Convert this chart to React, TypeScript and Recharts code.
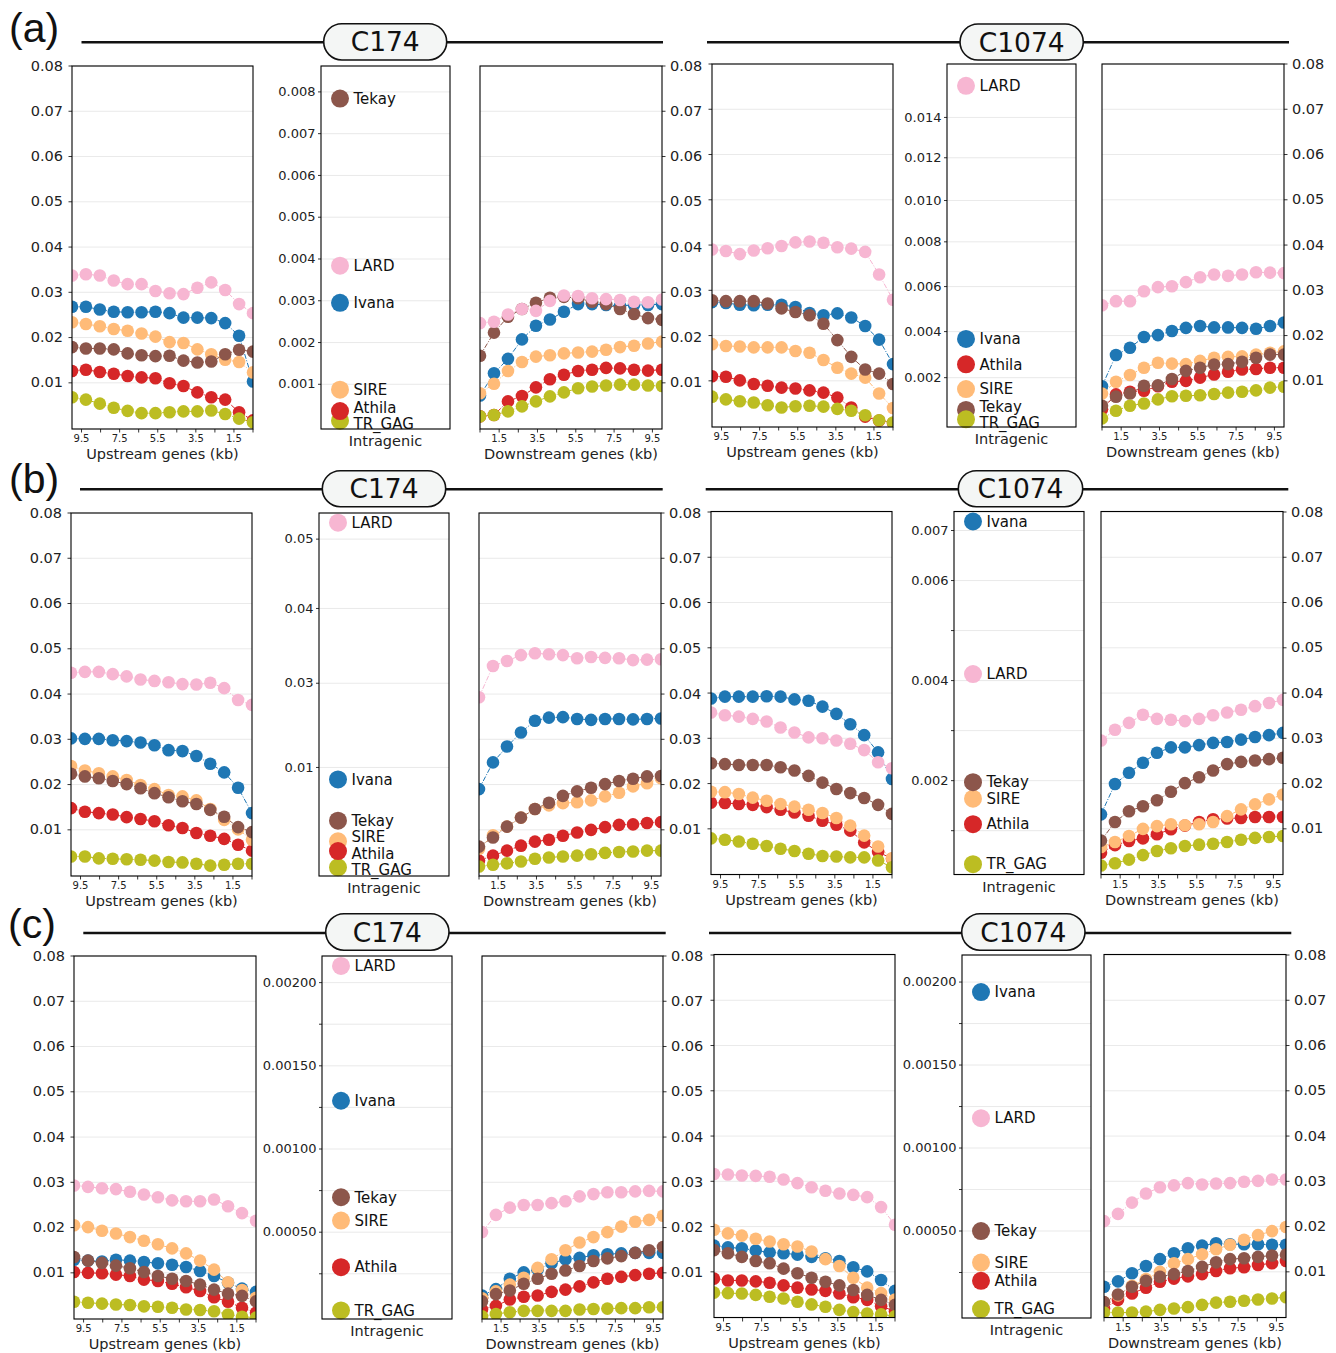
import React from 'react';
import { LineChart, Line, ScatterChart, Scatter, XAxis, YAxis, CartesianGrid } from 'recharts';

// transposable element families, in drawing order
const TES = ['Ivana', 'Athila', 'SIRE', 'Tekay', 'LARD', 'TR_GAG'];
// drawing order of the big dots in the intragenic panels
const IN_ORDER = ['Ivana', 'LARD', 'SIRE', 'Tekay', 'TR_GAG', 'Athila'];
const COLORS: Record<string, string> = {
  Ivana: '#1f77b4',
  Athila: '#d62728',
  SIRE: '#ffbb78',
  Tekay: '#8c564b',
  LARD: '#f7b6d2',
  TR_GAG: '#bcbd22',
};

// bin centres (kb). upstream panels are read left to right, i.e. far -> near
const DOWN_KB = [0.5, 1.23, 1.96, 2.69, 3.42, 4.15, 4.88, 5.62, 6.35, 7.08, 7.81, 8.54, 9.27, 10];
const UP_KB = [10, 9.27, 8.54, 7.81, 7.08, 6.35, 5.62, 4.88, 4.15, 3.42, 2.69, 1.96, 1.23, 0.5];

const X_TICKS = [0.5, 1.5, 2.5, 3.5, 4.5, 5.5, 6.5, 7.5, 8.5, 9.5];
const X_TICK_LABELS = ['', '1.5', '', '3.5', '', '5.5', '', '7.5', '', '9.5'];
const Y_TICKS = [0.01, 0.02, 0.03, 0.04, 0.05, 0.06, 0.07, 0.08];
const Y_TICK_LABELS = ['0.01', '0.02', '0.03', '0.04', '0.05', '0.06', '0.07', '0.08'];

type Series = Record<string, number[]>;
type Single = Record<string, number>;

// ---- (a) ----
const A_C174_UP: Series = {
  Ivana: [0.0268, 0.0268, 0.0262, 0.0257, 0.0256, 0.0256, 0.0257, 0.0254, 0.0244, 0.0244, 0.0243, 0.0232, 0.0204, 0.0103],
  Athila: [0.0126, 0.0129, 0.0124, 0.012, 0.0115, 0.0112, 0.011, 0.0099, 0.0093, 0.0079, 0.0068, 0.0063, 0.0035, 0.0017],
  SIRE: [0.0234, 0.023, 0.0225, 0.0219, 0.0215, 0.0209, 0.0202, 0.019, 0.0188, 0.0174, 0.0163, 0.0151, 0.0146, 0.0123],
  Tekay: [0.0179, 0.0176, 0.0176, 0.0174, 0.0165, 0.0161, 0.0159, 0.016, 0.0149, 0.0145, 0.0147, 0.0163, 0.0173, 0.0169],
  LARD: [0.0337, 0.034, 0.0337, 0.0326, 0.0318, 0.0318, 0.0303, 0.0298, 0.0296, 0.031, 0.0322, 0.0305, 0.0274, 0.0254],
  TR_GAG: [0.0068, 0.0063, 0.0054, 0.0045, 0.0038, 0.0033, 0.0033, 0.0035, 0.0037, 0.0037, 0.0039, 0.0031, 0.0021, 0.0013],
};
const A_C174_IN: Single = { Ivana: 0.00295, Athila: 0.00036, SIRE: 0.00087, Tekay: 0.00784, LARD: 0.00384, TR_GAG: 0.00013 };
const A_C174_IN_TICKS = [0.001, 0.002, 0.003, 0.004, 0.005, 0.006, 0.007, 0.008];
const A_C174_IN_LABELS = ['0.001', '0.002', '0.003', '0.004', '0.005', '0.006', '0.007', '0.008'];
const A_C174_DOWN: Series = {
  Ivana: [0.0072, 0.0121, 0.0153, 0.0196, 0.0226, 0.024, 0.0257, 0.0274, 0.0274, 0.0272, 0.027, 0.0272, 0.0272, 0.0274],
  Athila: [0.0026, 0.0029, 0.0059, 0.0071, 0.009, 0.0108, 0.0118, 0.0126, 0.0129, 0.0133, 0.0132, 0.0129, 0.0127, 0.0129],
  SIRE: [0.0077, 0.0098, 0.0126, 0.0146, 0.0158, 0.0161, 0.0165, 0.0167, 0.0169, 0.0173, 0.0179, 0.0182, 0.0187, 0.0191],
  Tekay: [0.016, 0.0211, 0.0246, 0.0263, 0.0277, 0.0288, 0.029, 0.0287, 0.0279, 0.0274, 0.0263, 0.0252, 0.0243, 0.0239],
  LARD: [0.0232, 0.0235, 0.0251, 0.0263, 0.0259, 0.0281, 0.0293, 0.0292, 0.0287, 0.0285, 0.0283, 0.0279, 0.0278, 0.0284],
  TR_GAG: [0.0026, 0.0029, 0.0037, 0.0048, 0.0059, 0.007, 0.0079, 0.0088, 0.0092, 0.0094, 0.0096, 0.0096, 0.0094, 0.0093],
};
const A_C1074_UP: Series = {
  Ivana: [0.0274, 0.0272, 0.0268, 0.0267, 0.0268, 0.0268, 0.0263, 0.025, 0.0245, 0.0249, 0.024, 0.0221, 0.0191, 0.0137],
  Athila: [0.011, 0.0109, 0.0101, 0.0093, 0.0089, 0.0085, 0.0083, 0.0079, 0.0074, 0.0063, 0.0041, 0.0021, 0.0012, 0.0007],
  SIRE: [0.0181, 0.0177, 0.0176, 0.0174, 0.0174, 0.0174, 0.0166, 0.0162, 0.0146, 0.0129, 0.0116, 0.0107, 0.0072, 0.004],
  Tekay: [0.0278, 0.0276, 0.0276, 0.0276, 0.0271, 0.026, 0.0252, 0.0245, 0.0226, 0.019, 0.0153, 0.0125, 0.0116, 0.0093],
  LARD: [0.039, 0.0387, 0.038, 0.0388, 0.0393, 0.0398, 0.0406, 0.0408, 0.0405, 0.0395, 0.0392, 0.0385, 0.0335, 0.0279],
  TR_GAG: [0.0065, 0.0059, 0.0055, 0.0052, 0.0046, 0.0041, 0.0044, 0.0045, 0.0043, 0.0038, 0.0034, 0.0024, 0.0013, 0.0008],
};
const A_C1074_IN: Single = { Ivana: 0.00368, Athila: 0.00258, SIRE: 0.00154, Tekay: 0.00069, LARD: 0.0156, TR_GAG: 0.00031 };
const A_C1074_IN_TICKS = [0.002, 0.004, 0.006, 0.008, 0.01, 0.012, 0.014];
const A_C1074_IN_LABELS = ['0.002', '0.004', '0.006', '0.008', '0.010', '0.012', '0.014'];
const A_C1074_DOWN: Series = {
  Ivana: [0.0088, 0.0157, 0.0173, 0.0197, 0.0201, 0.021, 0.0217, 0.0221, 0.0218, 0.0218, 0.0217, 0.0215, 0.0221, 0.0229],
  Athila: [0.0037, 0.007, 0.0076, 0.0078, 0.0088, 0.0098, 0.01, 0.0107, 0.0114, 0.012, 0.0125, 0.0126, 0.0129, 0.0129],
  SIRE: [0.0072, 0.0098, 0.0113, 0.0129, 0.014, 0.0138, 0.0137, 0.0144, 0.0151, 0.0153, 0.0154, 0.0158, 0.0162, 0.0165],
  Tekay: [0.0045, 0.0065, 0.0072, 0.0089, 0.009, 0.0104, 0.0122, 0.0129, 0.0136, 0.0137, 0.0142, 0.0151, 0.0158, 0.0158],
  LARD: [0.0267, 0.0276, 0.0276, 0.0298, 0.0307, 0.0309, 0.0318, 0.0329, 0.0335, 0.0332, 0.0335, 0.034, 0.0339, 0.0338],
  TR_GAG: [0.0017, 0.0034, 0.0045, 0.005, 0.0059, 0.0066, 0.0067, 0.0068, 0.0071, 0.0074, 0.0076, 0.0079, 0.0085, 0.0087],
};

// ---- (b) ----
const B_C174_UP: Series = {
  Ivana: [0.0302, 0.0301, 0.0301, 0.0298, 0.0296, 0.0293, 0.0287, 0.0276, 0.0274, 0.0263, 0.0246, 0.0227, 0.0193, 0.0137],
  Athila: [0.0148, 0.014, 0.0137, 0.0134, 0.0128, 0.0124, 0.0119, 0.011, 0.0104, 0.0093, 0.0087, 0.008, 0.0067, 0.0054],
  SIRE: [0.0241, 0.0231, 0.0225, 0.0218, 0.021, 0.0199, 0.019, 0.0177, 0.0174, 0.0165, 0.0146, 0.0122, 0.0101, 0.0078],
  Tekay: [0.0224, 0.0218, 0.0214, 0.0208, 0.0201, 0.0192, 0.0181, 0.0172, 0.0163, 0.0157, 0.0144, 0.0129, 0.0106, 0.0095],
  LARD: [0.0447, 0.0449, 0.0449, 0.0444, 0.0439, 0.0432, 0.0429, 0.0426, 0.0422, 0.0421, 0.0425, 0.0413, 0.0387, 0.0376],
  TR_GAG: [0.0041, 0.0041, 0.0037, 0.0036, 0.0035, 0.0034, 0.0032, 0.0029, 0.0028, 0.0025, 0.0021, 0.0023, 0.0025, 0.0025],
};
const B_C174_IN: Single = { Ivana: 0.0089, Athila: 0.0023, SIRE: 0.0032, Tekay: 0.0051, LARD: 0.0524, TR_GAG: 0.0008 };
const B_C174_IN_TICKS = [0.01, 0.03, 0.04, 0.05];
const B_C174_IN_LABELS = ['0.01', '0.03', '0.04', '0.05'];
const B_C174_DOWN: Series = {
  Ivana: [0.019, 0.0249, 0.0284, 0.0315, 0.0341, 0.0348, 0.0349, 0.0345, 0.0343, 0.0345, 0.0345, 0.0344, 0.0345, 0.0346],
  Athila: [0.0032, 0.0043, 0.0054, 0.0065, 0.0074, 0.0078, 0.0087, 0.0094, 0.01, 0.0106, 0.0111, 0.0112, 0.0115, 0.0117],
  SIRE: [0.0058, 0.0088, 0.0107, 0.0127, 0.0146, 0.0154, 0.0159, 0.0161, 0.0165, 0.0174, 0.0182, 0.0196, 0.0203, 0.0214],
  Tekay: [0.0063, 0.0083, 0.0107, 0.0127, 0.0146, 0.016, 0.0175, 0.0185, 0.0193, 0.0201, 0.0208, 0.0213, 0.0218, 0.0219],
  LARD: [0.0393, 0.0462, 0.0473, 0.0486, 0.049, 0.0488, 0.0486, 0.0479, 0.0482, 0.048, 0.0479, 0.0475, 0.0476, 0.0477],
  TR_GAG: [0.0019, 0.0023, 0.0026, 0.003, 0.0036, 0.0039, 0.0041, 0.0043, 0.0046, 0.0049, 0.0051, 0.0052, 0.0054, 0.0054],
};
const B_C1074_UP: Series = {
  Ivana: [0.0388, 0.0392, 0.0392, 0.0392, 0.0393, 0.0392, 0.0386, 0.0383, 0.037, 0.0354, 0.0331, 0.0307, 0.0269, 0.021],
  Athila: [0.0158, 0.0157, 0.0155, 0.0153, 0.0148, 0.0142, 0.0136, 0.0129, 0.0118, 0.0109, 0.0096, 0.007, 0.0049, 0.0034],
  SIRE: [0.0182, 0.0181, 0.0177, 0.0169, 0.0162, 0.0155, 0.0149, 0.0142, 0.0135, 0.0124, 0.0107, 0.0085, 0.0061, 0.0035],
  Tekay: [0.0245, 0.0243, 0.0241, 0.0241, 0.0241, 0.0236, 0.0229, 0.0217, 0.0202, 0.0188, 0.0179, 0.0168, 0.0153, 0.0133],
  LARD: [0.0357, 0.0351, 0.0348, 0.0343, 0.0337, 0.0324, 0.0313, 0.0302, 0.03, 0.0295, 0.0288, 0.0274, 0.0247, 0.0234],
  TR_GAG: [0.0079, 0.0076, 0.0072, 0.0067, 0.0062, 0.0056, 0.0051, 0.0045, 0.004, 0.0039, 0.0037, 0.0037, 0.003, 0.0015],
};
const B_C1074_IN: Single = { Ivana: 0.00718, Athila: 0.00113, SIRE: 0.00164, Tekay: 0.00197, LARD: 0.00413, TR_GAG: 0.00033 };
const B_C1074_IN_TICKS = [0.001, 0.002, 0.003, 0.004, 0.005, 0.006, 0.007];
const B_C1074_IN_LABELS = ['', '0.002', '', '0.004', '', '0.006', '0.007'];
const B_C1074_DOWN: Series = {
  Ivana: [0.0132, 0.0199, 0.0224, 0.0246, 0.0268, 0.028, 0.028, 0.0285, 0.029, 0.0292, 0.0297, 0.0303, 0.0307, 0.0312],
  Athila: [0.0047, 0.0064, 0.0073, 0.0079, 0.0088, 0.0099, 0.0107, 0.0115, 0.0121, 0.0123, 0.0124, 0.0126, 0.0126, 0.0126],
  SIRE: [0.006, 0.0071, 0.0084, 0.01, 0.0106, 0.011, 0.0108, 0.011, 0.0115, 0.0128, 0.0143, 0.0154, 0.0165, 0.0176],
  Tekay: [0.0074, 0.0115, 0.0139, 0.015, 0.0163, 0.0182, 0.0201, 0.0214, 0.0229, 0.0243, 0.0248, 0.0251, 0.0254, 0.0257],
  LARD: [0.0295, 0.0319, 0.0334, 0.0352, 0.0343, 0.0341, 0.0338, 0.0343, 0.0351, 0.0357, 0.0363, 0.0371, 0.0378, 0.0385],
  TR_GAG: [0.0019, 0.0024, 0.0032, 0.0042, 0.0051, 0.0057, 0.0062, 0.0065, 0.0067, 0.0071, 0.0076, 0.008, 0.0082, 0.0084],
};

// ---- (c) ----
const C_C174_UP: Series = {
  Ivana: [0.0129, 0.0127, 0.0125, 0.0129, 0.0127, 0.0124, 0.0121, 0.0118, 0.0113, 0.0104, 0.0093, 0.0078, 0.0065, 0.0058],
  Athila: [0.0102, 0.01, 0.0099, 0.0096, 0.0093, 0.0085, 0.0082, 0.0076, 0.0068, 0.006, 0.0046, 0.0036, 0.0023, 0.0012],
  SIRE: [0.0205, 0.0201, 0.0193, 0.0187, 0.0179, 0.0171, 0.0163, 0.0154, 0.0143, 0.0127, 0.0107, 0.0079, 0.0062, 0.0045],
  Tekay: [0.0135, 0.0127, 0.0122, 0.0116, 0.011, 0.0102, 0.0093, 0.0087, 0.0082, 0.0074, 0.0063, 0.0054, 0.0049, 0.0037],
  LARD: [0.0293, 0.029, 0.0287, 0.0285, 0.0279, 0.0273, 0.0267, 0.026, 0.0258, 0.0258, 0.0262, 0.0247, 0.0232, 0.0215],
  TR_GAG: [0.0036, 0.0034, 0.0032, 0.003, 0.0029, 0.0026, 0.0025, 0.0023, 0.0019, 0.0018, 0.0015, 0.0008, 0.0003, 0.0001],
};
const C_C174_IN: Single = { Ivana: 0.00129, Athila: 0.00029, SIRE: 0.00057, Tekay: 0.00071, LARD: 0.0021, TR_GAG: 0.00003 };
const C_IN_TICKS = [0.00025, 0.0005, 0.00075, 0.001, 0.00125, 0.0015, 0.00175, 0.002];
const C_IN_LABELS = ['', '0.00050', '', '0.00100', '', '0.00150', '', '0.00200'];
const C_C174_DOWN: Series = {
  Ivana: [0.005, 0.0064, 0.0087, 0.0101, 0.0107, 0.0121, 0.013, 0.0133, 0.0139, 0.0141, 0.0143, 0.0144, 0.0144, 0.0144],
  Athila: [0.0019, 0.0027, 0.0041, 0.0047, 0.005, 0.0058, 0.0063, 0.007, 0.0079, 0.0087, 0.0091, 0.0095, 0.0098, 0.01],
  SIRE: [0.0044, 0.0059, 0.0074, 0.0089, 0.0111, 0.013, 0.015, 0.0167, 0.0179, 0.019, 0.0202, 0.0213, 0.0217, 0.0226],
  Tekay: [0.0037, 0.0053, 0.0061, 0.0076, 0.0087, 0.0098, 0.0105, 0.0115, 0.0126, 0.0132, 0.0137, 0.0144, 0.015, 0.0157],
  LARD: [0.019, 0.0228, 0.0244, 0.025, 0.025, 0.0254, 0.0258, 0.0269, 0.0274, 0.0278, 0.0278, 0.028, 0.0281, 0.028],
  TR_GAG: [0.0004, 0.0009, 0.0013, 0.0016, 0.0016, 0.0016, 0.0016, 0.0019, 0.002, 0.0021, 0.0022, 0.0022, 0.0024, 0.0024],
};
const C_C1074_UP: Series = {
  Ivana: [0.0158, 0.0154, 0.0152, 0.0147, 0.0143, 0.0141, 0.0138, 0.0133, 0.013, 0.0124, 0.011, 0.0101, 0.0082, 0.0058],
  Athila: [0.0085, 0.0081, 0.0081, 0.0079, 0.0076, 0.007, 0.0065, 0.0061, 0.0058, 0.0052, 0.0044, 0.0038, 0.0024, 0.0013],
  SIRE: [0.0193, 0.0185, 0.018, 0.0173, 0.0167, 0.0161, 0.0156, 0.0145, 0.0128, 0.0113, 0.0087, 0.0065, 0.0053, 0.0039],
  Tekay: [0.0148, 0.0141, 0.0133, 0.0124, 0.0119, 0.0107, 0.0097, 0.0087, 0.0078, 0.007, 0.006, 0.0049, 0.0038, 0.0027],
  LARD: [0.0316, 0.0315, 0.0313, 0.0312, 0.031, 0.0304, 0.0296, 0.0287, 0.0279, 0.0273, 0.027, 0.0265, 0.0243, 0.0204],
  TR_GAG: [0.0054, 0.0053, 0.0052, 0.0049, 0.0045, 0.0041, 0.0034, 0.0028, 0.0023, 0.0016, 0.0011, 0.0008, 0.0006, 0.0002],
};
const C_C1074_IN: Single = { Ivana: 0.00194, Athila: 0.0002, SIRE: 0.00031, Tekay: 0.0005, LARD: 0.00118, TR_GAG: 0.00003 };
const C_C1074_DOWN: Series = {
  Ivana: [0.0067, 0.0079, 0.0097, 0.0113, 0.0128, 0.0141, 0.0152, 0.0158, 0.0163, 0.0161, 0.0161, 0.0161, 0.016, 0.016],
  Athila: [0.0019, 0.0038, 0.0052, 0.0065, 0.0078, 0.0085, 0.009, 0.0095, 0.0102, 0.0108, 0.011, 0.0115, 0.0119, 0.0124],
  SIRE: [0.0033, 0.0048, 0.0069, 0.0084, 0.01, 0.0119, 0.0128, 0.0139, 0.015, 0.016, 0.0171, 0.0181, 0.019, 0.0199],
  Tekay: [0.0033, 0.005, 0.0067, 0.008, 0.0089, 0.0095, 0.0102, 0.0111, 0.0121, 0.0128, 0.013, 0.0133, 0.0136, 0.0138],
  LARD: [0.0212, 0.0228, 0.0253, 0.0273, 0.0287, 0.0291, 0.0296, 0.0293, 0.0295, 0.0296, 0.0299, 0.0301, 0.0304, 0.0304],
  TR_GAG: [0.001, 0.001, 0.001, 0.0012, 0.0016, 0.0019, 0.0022, 0.0027, 0.0032, 0.0034, 0.0036, 0.0039, 0.0041, 0.0044],
};

// ---- styling / layout ----
const INK = '#222';
const GRID = '#e3e3e3';
const FONT = "'DejaVu Sans', sans-serif";
const Y_DOMAIN: [number, number] = [-0.0002, 0.08];

// the intragenic axes are not linear in the source figure: value -> fraction of axis height
const A_C174_SCALE: [number, number][] = [[-0.00007, 0], [0.00862, 1]];
const A_C1074_SCALE: [number, number][] = [
  [0, 0], [0.002, 0.1359], [0.004, 0.2628], [0.006, 0.3868], [0.008, 0.5101],
  [0.01, 0.6239], [0.012, 0.7417], [0.014, 0.8528], [0.0167, 1],
];
const B_C174_SCALE: [number, number][] = [[0, 0], [0.01, 0.299], [0.03, 0.531], [0.04, 0.737], [0.05, 0.928], [0.0538, 1]];
const B_C1074_SCALE: [number, number][] = [[0.000114, 0], [0.00737, 1]];
const C_C174_SCALE: [number, number][] = [[-0.0000217, 0], [0.00216, 1]];
const C_C1074_SCALE: [number, number][] = [[-0.0000241, 0], [0.002163, 1]];

type Box = { x: number; y: number; w: number; h: number };

const MT = 10;
const MB = 6;
const M = 2;
const XH = 34;
const AW = 56;
const XHI = 17;
const AWI = 62;
const LABEL_GAP = 16.5; // min vertical spacing of the intragenic name labels

function warp(v: number, knots: [number, number][]) {
  for (let i = 1; i < knots.length; i++) {
    if (v <= knots[i][0] || i === knots.length - 1) {
      const [v0, f0] = knots[i - 1];
      const [v1, f1] = knots[i];
      return f0 + ((v - v0) / (v1 - v0)) * (f1 - f0);
    }
  }
  return 0;
}

// push overlapping labels apart (like adjustText), returns label y per input y
function spread(ys: number[], gap: number) {
  const order = ys.map((_, i) => i).sort((a, b) => ys[a] - ys[b]);
  const pos = ys.slice();
  for (let it = 0; it < 200; it++) {
    let moved = false;
    for (let k = 1; k < order.length; k++) {
      const a = order[k - 1];
      const b = order[k];
      const d = pos[b] - pos[a];
      if (d < gap - 0.01) {
        const push = (gap - d) / 2;
        pos[a] -= push;
        pos[b] += push;
        moved = true;
      }
    }
    if (!moved) break;
  }
  return pos;
}

function toRows(kb: number[], s: Series) {
  return kb.map((k, i) => {
    const row: Record<string, number> = { kb: k };
    TES.forEach((te) => {
      row[te] = s[te][i];
    });
    return row;
  });
}

const XTick = (props: any) => {
  const { x, y, payload } = props;
  const label = X_TICK_LABELS[X_TICKS.indexOf(payload.value)] ?? '';
  return (
    <text x={x} y={y} dy="0.71em" textAnchor="middle" fontSize={10} fill={INK}>
      {label}
    </text>
  );
};

const YTick = (props: any) => {
  const { x, y, payload, textAnchor, ticks, labels, size } = props;
  const label = labels[ticks.indexOf(payload.value)] ?? '';
  return (
    <text x={x} y={y} dy="0.32em" textAnchor={textAnchor} fontSize={size} fill={INK}>
      {label}
    </text>
  );
};

function ProfilePanel({ box, series, up, yAxis }: { box: Box; series: Series; up: boolean; yAxis: 'left' | 'ticks' | 'right' }) {
  const right = yAxis === 'right';
  const leftSpace = M + (right ? 0 : AW);
  const rightSpace = M + (right ? AW : 0);
  const rows = toRows(up ? UP_KB : DOWN_KB, series);
  return (
    <div style={{ position: 'absolute', left: box.x - leftSpace, top: box.y - MT }}>
      <LineChart
        width={leftSpace + box.w + rightSpace}
        height={MT + box.h + XH + MB}
        data={rows}
        margin={{ top: MT, right: M, bottom: MB, left: M }}
      >
        <CartesianGrid vertical={false} stroke={GRID} strokeWidth={0.8} />
        <XAxis
          type="number"
          dataKey="kb"
          domain={[0.5, 10]}
          reversed={up}
          allowDataOverflow
          ticks={X_TICKS}
          interval={0}
          height={XH}
          axisLine={false}
          tickSize={3.5}
          tickMargin={2.5}
          tickLine={{ stroke: '#000', strokeWidth: 0.8 }}
          tick={(p: any) => <XTick {...p} />}
          label={{
            value: up ? 'Upstream genes (kb)' : 'Downstream genes (kb)',
            position: 'insideBottom',
            offset: 4,
            fill: INK,
            fontSize: 14.5,
          }}
        />
        <YAxis
          type="number"
          domain={Y_DOMAIN}
          allowDataOverflow
          ticks={Y_TICKS}
          interval={0}
          orientation={right ? 'right' : 'left'}
          width={AW}
          axisLine={false}
          tickSize={3.5}
          tickMargin={right ? 4.5 : 5.5}
          tickLine={{ stroke: '#000', strokeWidth: 0.8 }}
          tick={(p: any) => (
            <YTick {...p} ticks={Y_TICKS} labels={yAxis === 'ticks' ? [] : Y_TICK_LABELS} size={14.5} />
          )}
        />
        {TES.map((te) => (
          <Line
            key={te}
            type="linear"
            dataKey={te}
            stroke={COLORS[te]}
            strokeWidth={1}
            strokeDasharray="5 1.6 1 1.6"
            dot={{ r: 6.3, fill: COLORS[te], stroke: 'none' }}
            activeDot={false}
            isAnimationActive={false}
          />
        ))}
      </LineChart>
    </div>
  );
}

function IntragenicPanel({
  box,
  values,
  ticks,
  labels,
  knots,
}: {
  box: Box;
  values: Single;
  ticks: number[];
  labels: string[];
  knots: [number, number][];
}) {
  const leftSpace = M + AWI;
  const wt = ticks.map((t) => warp(t, knots));
  // label offsets so names do not sit on top of each other
  const dotY = IN_ORDER.map((te) => (1 - warp(values[te], knots)) * box.h);
  const labY = spread(dotY, LABEL_GAP);
  const shift: Record<string, number> = {};
  IN_ORDER.forEach((te, i) => {
    shift[te] = labY[i] - dotY[i];
  });
  return (
    <div style={{ position: 'absolute', left: box.x - leftSpace, top: box.y - MT }}>
      <ScatterChart
        width={leftSpace + box.w + 4}
        height={MT + box.h + XHI + MB}
        margin={{ top: MT, right: 4, bottom: MB, left: M }}
      >
        <CartesianGrid vertical={false} stroke={GRID} strokeWidth={0.8} />
        <XAxis
          type="number"
          dataKey="x"
          domain={[0, 1]}
          padding={{ left: 19, right: 0 }}
          tick={false}
          tickLine={false}
          axisLine={false}
          height={XHI}
          label={{ value: 'Intragenic', position: 'insideBottom', offset: 0, fill: INK, fontSize: 14.5 }}
        />
        <YAxis
          type="number"
          dataKey="y"
          domain={[0, 1]}
          ticks={wt}
          interval={0}
          width={AWI}
          axisLine={false}
          tickSize={3}
          tickMargin={2.5}
          tickLine={{ stroke: '#000', strokeWidth: 0.8 }}
          tick={(p: any) => <YTick {...p} ticks={wt} labels={labels} size={13} />}
        />
        {IN_ORDER.map((te) => (
          <Scatter
            key={te}
            name={te}
            data={[{ x: 0, y: warp(values[te], knots) }]}
            fill={COLORS[te]}
            isAnimationActive={false}
            shape={(p: any) => (
              <g>
                <circle cx={p.cx} cy={p.cy} r={9} fill={COLORS[te]} />
                <text x={p.cx + 13.5} y={p.cy + shift[te]} dy="0.35em" fontSize={15} fill="#111">
                  {te}
                </text>
              </g>
            )}
          />
        ))}
      </ScatterChart>
    </div>
  );
}

// plot boxes of the 18 axes, in page pixels
const BOX = {
  aUp174: { x: 72, y: 66, w: 181, h: 363 },
  aIn174: { x: 321, y: 66, w: 129, h: 363 },
  aDn174: { x: 480, y: 66, w: 182, h: 363 },
  aUp1074: { x: 712, y: 64, w: 181, h: 363 },
  aIn1074: { x: 947, y: 64, w: 129, h: 363 },
  aDn1074: { x: 1102, y: 64, w: 182, h: 363 },
  bUp174: { x: 71, y: 513, w: 181, h: 363 },
  bIn174: { x: 319, y: 513, w: 130, h: 363 },
  bDn174: { x: 479, y: 513, w: 182, h: 363 },
  bUp1074: { x: 711, y: 511.5, w: 181, h: 363 },
  bIn1074: { x: 954, y: 511.5, w: 130, h: 363 },
  bDn1074: { x: 1101, y: 511.5, w: 182, h: 363 },
  cUp174: { x: 74, y: 956, w: 182, h: 363 },
  cIn174: { x: 322, y: 956, w: 130, h: 363 },
  cDn174: { x: 482, y: 956, w: 181, h: 363 },
  cUp1074: { x: 714, y: 954.5, w: 181, h: 363 },
  cIn1074: { x: 962, y: 955, w: 129, h: 363 },
  cDn1074: { x: 1104, y: 954.5, w: 182, h: 363 },
};

const HEADERS = [
  { name: 'C174', x1: 81.5, x2: 663, y: 42.3, px: 323.7, py: 23.7, pw: 123, ph: 36.3 },
  { name: 'C1074', x1: 707, x2: 1289, y: 42.3, px: 960, py: 24, pw: 123.3, ph: 36 },
  { name: 'C174', x1: 80, x2: 662.7, y: 489.3, px: 322.3, py: 470.7, pw: 123.4, ph: 36 },
  { name: 'C1074', x1: 705.7, x2: 1288.3, y: 489.3, px: 958.3, py: 470.7, pw: 124.4, ph: 36 },
  { name: 'C174', x1: 83.3, x2: 665.7, y: 933, px: 325.7, py: 913.7, pw: 123.3, ph: 36.6 },
  { name: 'C1074', x1: 709, x2: 1291.3, y: 933, px: 961.7, py: 913.7, pw: 123.3, ph: 36.6 },
];

const LETTERS = [
  { t: '(a)', x: 9, y: 41.5 },
  { t: '(b)', x: 9, y: 493 },
  { t: '(c)', x: 8, y: 938 },
];

export default function App() {
  return (
    <div
      style={{
        position: 'absolute',
        left: 0,
        top: 0,
        width: 1336,
        height: 1353,
        background: '#fff',
        fontFamily: FONT,
        overflow: 'hidden',
      }}
    >
      <ProfilePanel box={BOX.aUp174} series={A_C174_UP} up yAxis="left" />
      <IntragenicPanel box={BOX.aIn174} values={A_C174_IN} ticks={A_C174_IN_TICKS} labels={A_C174_IN_LABELS} knots={A_C174_SCALE} />
      <ProfilePanel box={BOX.aDn174} series={A_C174_DOWN} up={false} yAxis="right" />
      <ProfilePanel box={BOX.aUp1074} series={A_C1074_UP} up yAxis="ticks" />
      <IntragenicPanel box={BOX.aIn1074} values={A_C1074_IN} ticks={A_C1074_IN_TICKS} labels={A_C1074_IN_LABELS} knots={A_C1074_SCALE} />
      <ProfilePanel box={BOX.aDn1074} series={A_C1074_DOWN} up={false} yAxis="right" />

      <ProfilePanel box={BOX.bUp174} series={B_C174_UP} up yAxis="left" />
      <IntragenicPanel box={BOX.bIn174} values={B_C174_IN} ticks={B_C174_IN_TICKS} labels={B_C174_IN_LABELS} knots={B_C174_SCALE} />
      <ProfilePanel box={BOX.bDn174} series={B_C174_DOWN} up={false} yAxis="right" />
      <ProfilePanel box={BOX.bUp1074} series={B_C1074_UP} up yAxis="ticks" />
      <IntragenicPanel box={BOX.bIn1074} values={B_C1074_IN} ticks={B_C1074_IN_TICKS} labels={B_C1074_IN_LABELS} knots={B_C1074_SCALE} />
      <ProfilePanel box={BOX.bDn1074} series={B_C1074_DOWN} up={false} yAxis="right" />

      <ProfilePanel box={BOX.cUp174} series={C_C174_UP} up yAxis="left" />
      <IntragenicPanel box={BOX.cIn174} values={C_C174_IN} ticks={C_IN_TICKS} labels={C_IN_LABELS} knots={C_C174_SCALE} />
      <ProfilePanel box={BOX.cDn174} series={C_C174_DOWN} up={false} yAxis="right" />
      <ProfilePanel box={BOX.cUp1074} series={C_C1074_UP} up yAxis="ticks" />
      <IntragenicPanel box={BOX.cIn1074} values={C_C1074_IN} ticks={C_IN_TICKS} labels={C_IN_LABELS} knots={C_C1074_SCALE} />
      <ProfilePanel box={BOX.cDn1074} series={C_C1074_DOWN} up={false} yAxis="right" />

      {/* spines, header bars and panel letters */}
      <svg width={1336} height={1353} style={{ position: 'absolute', left: 0, top: 0, pointerEvents: 'none' }}>
        {Object.values(BOX).map((b, i) => (
          <rect key={i} x={b.x} y={b.y} width={b.w} height={b.h} fill="none" stroke="#000" strokeWidth={1.1} />
        ))}
        {HEADERS.map((h, i) => (
          <g key={i}>
            <line x1={h.x1} x2={h.x2} y1={h.y} y2={h.y} stroke="#111" strokeWidth={2.4} />
            <rect x={h.px} y={h.py} width={h.pw} height={h.ph} rx={h.ph / 2} fill="#f4f6f5" stroke="#111" strokeWidth={1.6} />
            <text x={h.px + h.pw / 2} y={h.py + h.ph / 2 + 9.6} textAnchor="middle" fontSize={26.5} fill="#111">
              {h.name}
            </text>
          </g>
        ))}
        {LETTERS.map((l) => (
          <text key={l.t} x={l.x} y={l.y} fontSize={41} fontFamily="'Liberation Sans', Arial, sans-serif" fill="#111">
            {l.t}
          </text>
        ))}
      </svg>
    </div>
  );
}
